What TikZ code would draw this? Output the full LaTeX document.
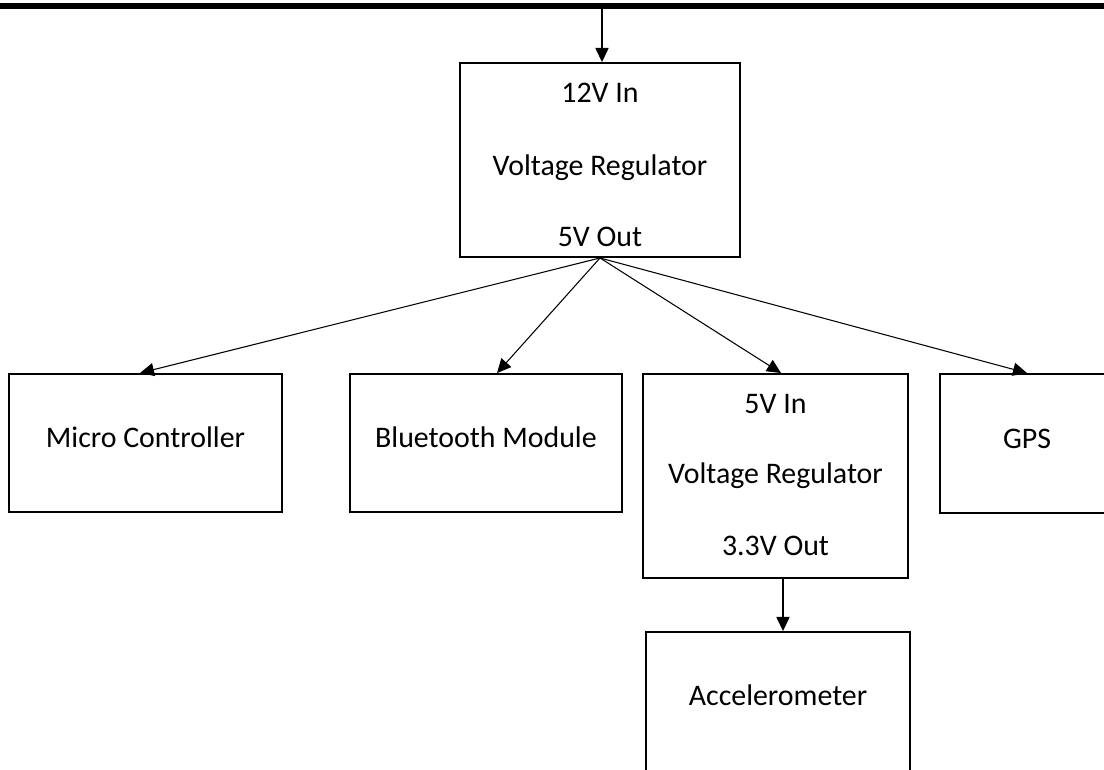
\documentclass[tikz,border=0pt]{standalone}
\usepackage{fontspec}
\setmainfont{Carlito}
\usepackage{tikz}
\usetikzlibrary{arrows.meta}
\usetikzlibrary{positioning}

\begin{document}
\begin{tikzpicture}[
  blk/.style={draw,line width=1.1pt,rectangle,inner sep=0pt},
  lbl/.style={anchor=base,font=\fontsize{17pt}{20pt}\selectfont},
  wire/.style={line width=0.6pt,-{Triangle[length=8pt,width=7.5pt]}}]
\clip (0,0) rectangle (22.08,-15.38);

% supply bar
\draw[line width=3.4pt] (0,-0.12)--(22.08,-0.12);
\coordinate (bar) at (12.04,-0.18);

% boxes
\node[blk,minimum width=5.6cm,minimum height=3.88cm] (vreg1) at (12,-3.2) {};
\node[blk,minimum width=5.46cm,minimum height=2.76cm] (micro) at (2.91,-8.86) {};
\node[blk,minimum width=5.44cm,minimum height=2.76cm] (blue) at (9.72,-8.86) {};
\node[blk,minimum width=5.3cm,minimum height=4.08cm] (vreg2) at (15.51,-9.52) {};
\node[blk,minimum width=5.6cm,minimum height=2.78cm] (gps) at (21.6,-8.87) {};
\node[blk,minimum width=5.28cm,minimum height=3cm] (accel) at (15.56,-14.14) {};

% texts
\node[lbl] (in1) at (12,-2.04) {12V In};
\node[lbl] (reg1) at (12,-3.5) {Voltage Regulator};
\node[lbl] (out1) at (12,-4.92) {5V Out};
\node[lbl] (microtxt) at (2.91,-8.94) {Micro Controller};
\node[lbl] (bluetxt) at (9.72,-8.94) {Bluetooth Module};
\node[lbl] (in2) at (15.51,-8.26) {5V In};
\node[lbl] (reg2) at (15.51,-9.66) {Voltage Regulator};
\node[lbl] (out2) at (15.51,-11.1) {3.3V Out};
\node[lbl] (gpstxt) at (20.54,-8.96) {GPS};
\node[lbl] (acceltxt) at (15.56,-14.1) {Accelerometer};

% connections
\draw[wire] (bar) -- (bar |- vreg1.north);
\draw[wire] (vreg1.south) -- ([xshift=-0.11cm]micro.north);
\draw[wire] (vreg1.south) -- ([xshift=0.22cm]blue.north);
\draw[wire] (vreg1.south) -- ([xshift=0.11cm]vreg2.north);
\draw[wire] (vreg1.south) -- ([xshift=-1.06cm]gps.north);
\draw[wire] ([xshift=0.15cm]vreg2.south) -- ([xshift=0.15cm]vreg2.south |- accel.north);

\end{tikzpicture}
\end{document}
